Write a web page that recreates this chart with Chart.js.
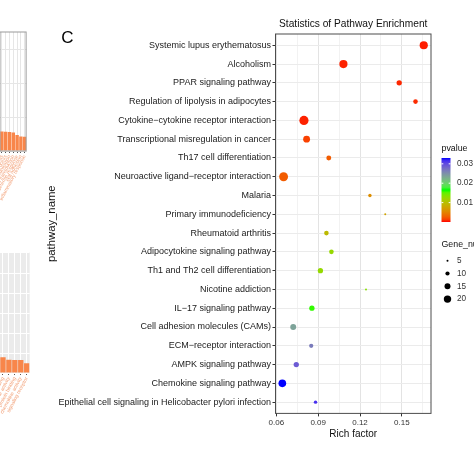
<!DOCTYPE html>
<html>
<head>
<meta charset="utf-8">
<script src="https://cdn.jsdelivr.net/npm/chart.js@4.4.1/dist/chart.umd.min.js"></script>
<style>
  html, body { margin: 0; padding: 0; background: #fff; overflow: hidden; }
  #wrap { position: relative; width: 474px; height: 474px; overflow: hidden; }
  canvas { position: absolute; }
</style>
</head>
<body>
<div id="wrap">
  <canvas id="topBars" width="101" height="215" style="left:-70px;top:0"></canvas>
  <canvas id="bottomBars" width="103" height="190" style="left:-70px;top:240px"></canvas>
  <canvas id="dotPlot" width="474" height="474" style="left:0;top:0"></canvas>
</div>
<script>
// panel C – KEGG enrichment dot plot, plus the edges of the neighbouring bar panels

const pathways = [
  "Systemic lupus erythematosus",
  "Alcoholism",
  "PPAR signaling pathway",
  "Regulation of lipolysis in adipocytes",
  "Cytokine−cytokine receptor interaction",
  "Transcriptional misregulation in cancer",
  "Th17 cell differentiation",
  "Neuroactive ligand−receptor interaction",
  "Malaria",
  "Primary immunodeficiency",
  "Rheumatoid arthritis",
  "Adipocytokine signaling pathway",
  "Th1 and Th2 cell differentiation",
  "Nicotine addiction",
  "IL−17 signaling pathway",
  "Cell adhesion molecules (CAMs)",
  "ECM−receptor interaction",
  "AMPK signaling pathway",
  "Chemokine signaling pathway",
  "Epithelial cell signaling in Helicobacter pylori infection",
];
const richFactor = [0.1657, 0.1081, 0.1481, 0.1598, 0.0798, 0.0817, 0.0976, 0.0652, 0.1271, 0.1381,
                    0.0959, 0.0995, 0.0916, 0.1243, 0.0855, 0.0721, 0.0850, 0.0743, 0.0643, 0.0881];
const geneNumber = [23, 23, 13, 11, 27, 18, 12, 26, 8, 5, 11, 11, 13, 5, 13, 15, 10, 13, 21, 8];
const pValue     = [0.0003, 0.0004, 0.0005, 0.0006, 0.0004, 0.0013, 0.0025, 0.0025, 0.0058, 0.0075,
                    0.0095, 0.0125, 0.0126, 0.0133, 0.0161, 0.0236, 0.0266, 0.0289, 0.0330, 0.0315];

const xMajorTicks = [0.06, 0.09, 0.12, 0.15];
const xMinorTicks = [0.075, 0.105, 0.135, 0.165];
const pLegendTicks = [0.01, 0.02, 0.03];
const sizeLegend = [5, 10, 15, 20];

// partial neighbouring panels (only their right edge is in frame)
const topPanelLabels = ["response to stimulus", "immune system process", "cell communication",
                        "signal transduction", "defense response", "cell adhesion", "inflammatory response"];
const topPanelBars = [19.5, 19.3, 19.0, 18.4, 16.0, 14.6, 14.3];
const topPanelTicks = [0, 34, 68, 102];
const bottomPanelLabels = ["receptor binding", "cytokine activity", "protein binding",
                           "chemokine activity", "signaling receptor"];
const bottomPanelBars = [15.7, 13.3, 13.0, 13.0, 9.7];
const bottomPanelTicks = [0, 20, 40, 60, 80, 100, 120];

const SANS = '"Liberation Sans", Arial, sans-serif';
const rampColors = ["#ff0000", "#00ff00", "#0000ff"];
const barOrange = "#f8864a";

// ---- colour ramp (ggplot-style, interpolated in CIELAB) ----
function hexToRgb(h) {
  return [parseInt(h.slice(1, 3), 16), parseInt(h.slice(3, 5), 16), parseInt(h.slice(5, 7), 16)];
}
function toLinear(c) {
  c /= 255;
  return c <= 0.04045 ? c / 12.92 : Math.pow((c + 0.055) / 1.055, 2.4);
}
function fromLinear(c) {
  c = c <= 0.0031308 ? 12.92 * c : 1.055 * Math.pow(c, 1 / 2.4) - 0.055;
  return Math.round(Math.max(0, Math.min(1, c)) * 255);
}
function rgbToLab(rgb) {
  const [r, g, b] = rgb.map(toLinear);
  const X = (0.4124 * r + 0.3576 * g + 0.1805 * b) / 0.95047;
  const Y = 0.2126 * r + 0.7152 * g + 0.0722 * b;
  const Z = (0.0193 * r + 0.1192 * g + 0.9505 * b) / 1.08883;
  const f = t => t > 0.008856 ? Math.cbrt(t) : 7.787 * t + 16 / 116;
  const fx = f(X), fy = f(Y), fz = f(Z);
  return [116 * fy - 16, 500 * (fx - fy), 200 * (fy - fz)];
}
function labToCss([L, a, b]) {
  const fy = (L + 16) / 116, fx = fy + a / 500, fz = fy - b / 200;
  const finv = t => t * t * t > 0.008856 ? t * t * t : (t - 16 / 116) / 7.787;
  const X = finv(fx) * 0.95047, Y = finv(fy), Z = finv(fz) * 1.08883;
  const r = 3.2406 * X - 1.5372 * Y - 0.4986 * Z;
  const g = -0.9689 * X + 1.8758 * Y + 0.0415 * Z;
  const bb = 0.0557 * X - 0.2040 * Y + 1.0570 * Z;
  return `rgb(${fromLinear(r)},${fromLinear(g)},${fromLinear(bb)})`;
}
const rampLab = rampColors.map(c => rgbToLab(hexToRgb(c)));
const pMin = 0;
const pMax = Math.max(...pValue);

function rampColor(t) {
  t = Math.max(0, Math.min(1, t));
  const seg = t * (rampLab.length - 1);
  const i = Math.min(rampLab.length - 2, Math.floor(seg));
  const f = seg - i;
  const a = rampLab[i], b = rampLab[i + 1];
  return labToCss([0, 1, 2].map(k => a[k] + (b[k] - a[k]) * f));
}
const pColor = p => rampColor((p - pMin) / (pMax - pMin));
const geneRadius = n => 1.207 * Math.sqrt(n) - 1.7;

// ---- dot plot extras: frame, title, panel letter, legends ----
const dotExtras = {
  id: "dotExtras",
  afterDraw(chart) {
    const { ctx, chartArea: a } = chart;
    ctx.save();
    ctx.strokeStyle = "#4d4d4d";
    ctx.lineWidth = 1;
    ctx.strokeRect(a.left, a.top, a.right - a.left, a.bottom - a.top);

    ctx.fillStyle = "#111";
    ctx.textBaseline = "middle";
    ctx.textAlign = "center";
    ctx.font = `10.2px ${SANS}`;
    ctx.fillText("Statistics of Pathway Enrichment", (a.left + a.right) / 2, 24);
    ctx.font = `17px ${SANS}`;
    ctx.fillStyle = "#000";
    ctx.fillText("C", 67.5, 38);

    // pvalue colourbar
    const bx = 441.5, bw = 9, bTop = 158, bBot = 222;
    ctx.textAlign = "left";
    ctx.fillStyle = "#111";
    ctx.font = `8.8px ${SANS}`;
    ctx.fillText("pvalue", bx, 149);
    const grad = ctx.createLinearGradient(0, bBot, 0, bTop);
    for (let k = 0; k <= 24; k++) grad.addColorStop(k / 24, rampColor(k / 24));
    ctx.fillStyle = grad;
    ctx.fillRect(bx, bTop, bw, bBot - bTop);
    ctx.font = `8.2px ${SANS}`;
    pLegendTicks.forEach(v => {
      const y = bBot - (v - pMin) / (pMax - pMin) * (bBot - bTop);
      ctx.strokeStyle = "#fff";
      ctx.beginPath();
      ctx.moveTo(bx, y); ctx.lineTo(bx + 1.8, y);
      ctx.moveTo(bx + bw - 1.8, y); ctx.lineTo(bx + bw, y);
      ctx.stroke();
      ctx.fillStyle = "#333";
      ctx.fillText(v.toFixed(2), 457, y);
    });

    // Gene_number size legend
    ctx.fillStyle = "#111";
    ctx.font = `8.8px ${SANS}`;
    ctx.fillText("Gene_number", bx, 245);
    ctx.font = `8.2px ${SANS}`;
    sizeLegend.forEach((n, i) => {
      const y = 260.7 + i * 12.8;
      ctx.fillStyle = "#000";
      ctx.beginPath();
      ctx.arc(447.5, y, geneRadius(n), 0, Math.PI * 2);
      ctx.fill();
      ctx.fillStyle = "#333";
      ctx.fillText(String(n), 457, y);
    });
    ctx.restore();
  },
};

const isMajor = v => xMajorTicks.some(m => Math.abs(m - v) < 1e-9);

new Chart(document.getElementById("dotPlot"), {
  type: "bubble",
  data: {
    datasets: [{
      data: pathways.map((_, i) => ({ x: richFactor[i], y: i, r: geneRadius(geneNumber[i]) })),
      backgroundColor: pValue.map(pColor),
      borderWidth: 0,
      hoverBorderWidth: 0,
    }],
  },
  options: {
    responsive: false,
    animation: false,
    devicePixelRatio: 1,
    events: [],
    layout: { padding: { left: 41, top: 34, right: 43, bottom: 33.6 } },
    plugins: { legend: { display: false }, tooltip: { enabled: false } },
    scales: {
      x: {
        type: "linear",
        min: 0.0594,
        max: 0.1709,
        afterBuildTicks: s => { s.ticks = [...xMajorTicks, ...xMinorTicks].sort((p, q) => p - q).map(v => ({ value: v })); },
        afterFit: s => { s.height = 27; },
        border: { display: false },
        grid: {
          color: c => isMajor(c.tick.value) ? "#e3e3e3" : "#f2f2f2",
          tickColor: c => isMajor(c.tick.value) ? "#333" : "rgba(0,0,0,0)",
          tickLength: 3,
        },
        ticks: {
          autoSkip: false,
          maxRotation: 0,
          padding: 2,
          color: "#333",
          font: { family: SANS, size: 8 },
          callback: v => isMajor(v) ? v.toFixed(2) : "",
        },
        title: { display: true, text: "Rich factor", color: "#111", padding: 0, font: { family: SANS, size: 10 } },
      },
      y: {
        type: "linear",
        reverse: true,
        min: -0.6,
        max: 19.6,
        afterBuildTicks: s => { s.ticks = pathways.map((_, i) => ({ value: i })); },
        afterFit: s => { s.width = 234.5; },
        border: { display: false },
        grid: { color: "#ebebeb", tickColor: "#333", tickLength: 3 },
        ticks: {
          autoSkip: false,
          padding: 1.5,
          color: "#1a1a1a",
          font: { family: SANS, size: 9 },
          callback: v => pathways[v],
        },
        title: { display: true, text: "pathway_name", color: "#111", padding: { top: 4, bottom: 4 }, font: { family: SANS, size: 11.3 } },
      },
    },
  },
  plugins: [dotExtras],
});

// ---- the cut-off bar panels on the left ----
function panelFrame(fill, stroke) {
  return {
    id: "panelFrame",
    beforeDraw(chart) {
      if (!fill) return;
      const { ctx, chartArea: a } = chart;
      ctx.save();
      ctx.fillStyle = fill;
      ctx.fillRect(a.left, a.top, a.right - a.left, a.bottom - a.top);
      ctx.restore();
    },
    afterDraw(chart) {
      if (!stroke) return;
      const { ctx, chartArea: a } = chart;
      ctx.save();
      ctx.strokeStyle = stroke;
      ctx.strokeRect(a.left, a.top, a.right - a.left - 0.5, a.bottom - a.top);
      ctx.restore();
    },
  };
}

function sideBars(id, labels, values, yTicks, yMax, top, axisHeight, gridColor, fill, stroke) {
  new Chart(document.getElementById(id), {
    type: "bar",
    data: {
      labels,
      datasets: [{ data: values, backgroundColor: barOrange, borderWidth: 0, barPercentage: 0.9, categoryPercentage: 1 }],
    },
    options: {
      responsive: false,
      animation: false,
      devicePixelRatio: 1,
      events: [],
      layout: { padding: { left: 0, right: 0, top, bottom: 0 } },
      plugins: { legend: { display: false }, tooltip: { enabled: false } },
      scales: {
        x: {
          afterFit: s => { s.height = axisHeight; },
          border: { display: false },
          grid: { offset: false, color: gridColor, tickColor: "#555", tickLength: 2 },
          ticks: {
            autoSkip: false, minRotation: 62, maxRotation: 62, padding: 1,
            color: "#f2a27a", font: { family: SANS, size: 5 },
          },
        },
        y: {
          min: 0,
          max: yMax,
          afterBuildTicks: s => { s.ticks = yTicks.map(v => ({ value: v })); },
          afterFit: s => { s.width = 70; },
          border: { display: false },
          grid: { color: gridColor, drawTicks: false },
          ticks: { display: false },
        },
      },
    },
    plugins: [panelFrame(fill, stroke)],
  });
}

sideBars("topBars", topPanelLabels, topPanelBars, topPanelTicks, 119, 32, 64, "#e6e6e6", null, "#9a9a9a");
sideBars("bottomBars", bottomPanelLabels, bottomPanelBars, bottomPanelTicks, 121, 12, 57, "#ffffff", "#ebebeb", null);
</script>
</body>
</html>
